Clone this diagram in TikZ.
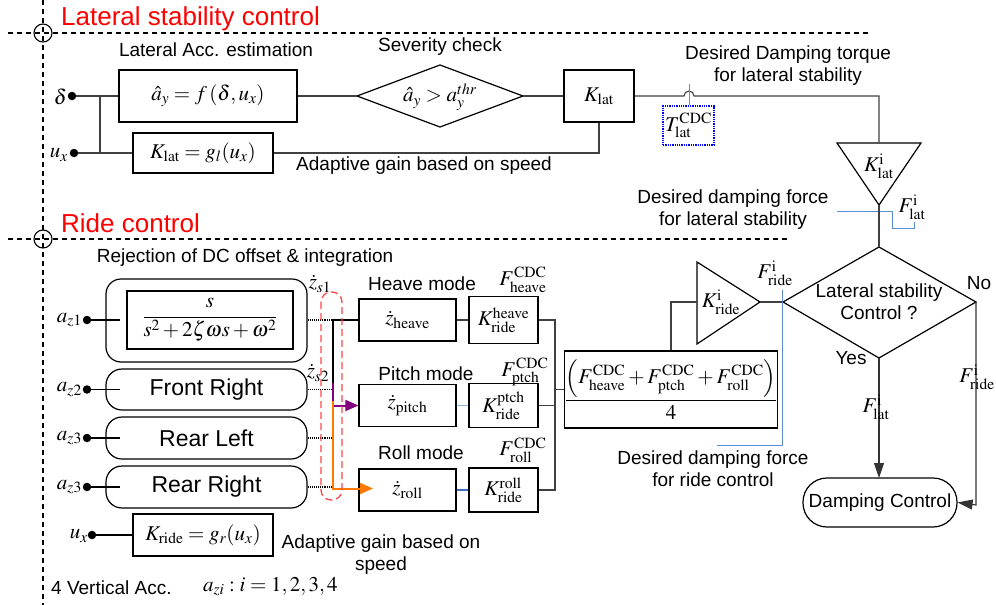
\documentclass[tikz,border=0pt]{standalone}
\usepackage{amsmath}
\usepackage{mathptmx}
\usepackage{fontspec}
\setmainfont{Liberation Serif}
\newfontfamily\arialf{Liberation Sans}
\usetikzlibrary{arrows.meta}
\definecolor{leadblue}{RGB}{91,141,213}
\definecolor{paleblue}{RGB}{140,180,230}
\definecolor{midblue}{RGB}{60,110,200}
\definecolor{dashred}{RGB}{255,70,70}
\definecolor{orng}{RGB}{255,120,0}
\definecolor{purp}{RGB}{128,0,128}
\tikzset{
  box/.style={draw=black, line width=1.2pt, inner sep=0pt, fill=white},
  rbox/.style={box, rounded corners=16pt},
  lbl/.style={font=\arialf\fontsize{19}{22}\selectfont, inner sep=0pt},
  biglbl/.style={font=\arialf\fontsize{23}{26}\selectfont},
  ttl/.style={font=\arialf\fontsize{26}{30}\selectfont, text=red, inner sep=0pt},
  mth/.style={font=\fontsize{21}{24}\selectfont, inner sep=0pt},
  conn/.style={line width=1.1pt, draw=black!75},
  dotl/.style={line width=1.1pt, densely dotted, draw=black},
  sect/.style={line width=1.1pt, dash pattern=on 5pt off 4pt, draw=black},
  pin/.style={circle, fill=black, inner sep=0pt, minimum size=8.5pt},
  arr/.style={-{Triangle[length=13pt,width=11pt]}},
}
\begin{document}
\begin{tikzpicture}[x=1pt,y=-1pt]
\useasboundingbox (0,0) rectangle (996,605);
% section lines
\draw[sect] (43,0) -- (43,605);
\draw[sect] (8,33) -- (870,33);
\draw[sect] (8,239) -- (788,239);
\foreach \yy in {33,239}{
  \draw[line width=1.1pt] (43,\yy) circle[radius=9pt];
}
\node[ttl, anchor=base west] (t1) at (61,25) {Lateral stability control};
\node[ttl, anchor=base west] (t2) at (61,232) {Ride control};

% ---------- Lateral stability part ----------
\node[lbl] (latacc) at (216,50) {Lateral Acc. estimation};
\node[lbl] (sev) at (440,47) {Severity check};
\node[lbl, align=center] (torq) at (788,66) {Desired Damping torque\\for lateral stability};
\node[box, mth, minimum width=178, minimum height=52] (fay) at (208,96) {$\hat a_y = f\,(\delta, u_x)$};
\node[box, mth, minimum width=140, minimum height=40] (klg) at (203,153) {$K_{\mathrm{lat}} = g_l(u_x)$};
\node[lbl, anchor=west] (adap1) at (296,166) {Adaptive gain based on speed};
\node[box, mth, minimum width=70, minimum height=52] (klat) at (599,96) {$K_{\mathrm{lat}}$};

\node[pin] (pd) at (72,96) {};
\node[pin] (pu) at (74,153) {};
\node[mth, anchor=east] (ldelta) at (67,97) {$\delta$};
\node[mth, anchor=east] (lux) at (68,155) {$u_x$};
\coordinate (j1) at (100,96);
\coordinate (j2) at (100,153);

% diamond 1
\coordinate (d1l) at (357,96);
\coordinate (d1t) at (440,65);
\coordinate (d1r) at (523,96);
\coordinate (d1b) at (440,127);
\draw[line width=1.2pt] (d1l) -- (d1t) -- (d1r) -- (d1b) -- cycle;
\node[mth] (d1txt) at (440,97) {$\hat a_y > a_y^{thr}$};

\draw[conn] (pd) -- (fay.west);
\draw[conn] (j1) -- (j2);
\draw[conn] (pu) -- (klg.west);
\draw[conn] (fay.east) -- (d1l);
\draw[conn] (d1r) -- (klat.west);
\draw[conn] (klg.east) -- (599,153) -- (klat.south);

% triangle K_lat^i
\coordinate (tr1a) at (837,143);
\coordinate (tr1b) at (921,143);
\coordinate (tr1c) at (879,205);
\draw[line width=1.2pt] (tr1a) -- (tr1b) -- (tr1c) -- cycle;
\node[mth] (klati) at (879,166) {$K^{\mathrm{i}}_{\mathrm{lat}}$};
\coordinate (tr1top) at (879,143);
\draw[conn] (klat.east) -- (684,96) arc[start angle=180, end angle=0, radius=5pt] -- (879,96) -- (tr1top);

% T lat box
\node[mth, draw=blue, densely dotted, line width=1.3pt, minimum width=51, minimum height=39] (tbox) at (688.5,125.5) {$T^{\mathrm{CDC}}_{\mathrm{lat}}$};
\coordinate (hoptop) at (689,84);
\draw[leadblue, line width=1pt] (hoptop) -- (tbox.north -| hoptop);

% desired damping force lateral
\node[lbl, align=center] (ddfl) at (733,210) {Desired damping force\\for lateral stability};
\node[mth] (flati1) at (912,207) {$F^{\mathrm{i}}_{\mathrm{lat}}$};
\draw[leadblue, line width=1pt] (837,211) -- (892,211) -- (892,228) -- (914,228) -- (914,222);

% ---------- Ride control part ----------
\node[lbl] (rej) at (245,258) {Rejection of DC offset \& integration};
\node[box, rounded corners=15pt, minimum width=201, minimum height=83] (b1) at (206.5,320.5) {};
\node[box, mth, minimum width=166, minimum height=58] (b1in) at (210,320) {$\displaystyle\frac{s}{s^2+2\zeta\omega s+\omega^2}$};
\node[rbox, biglbl, minimum width=201, minimum height=41] (b2) at (206.5,389.5) {Front Right};
\node[rbox, biglbl, minimum width=201, minimum height=42] (b3) at (206.5,438) {Rear Left};
\node[rbox, biglbl, minimum width=201, minimum height=42] (b4) at (206.5,487) {Rear Right};

\foreach \nm/\yy/\lab in {a1/320/{a_{z1}}, a2/389.5/{a_{z2}}, a3/438/{a_{z3}}, a4/487/{a_{z3}}}{
  \node[pin] (p\nm) at (87,\yy) {};
  \node[mth, anchor=east] (l\nm) at (82,\yy) {$\lab$};
  \coordinate (s\nm) at (120,\yy);
  \draw[conn, draw=black] (p\nm) -- (s\nm);
}

% mode boxes
\node[box, mth, minimum width=97, minimum height=42] (zh) at (407.5,320) {$\dot z_{\mathrm{heave}}$};
\node[box, mth, minimum width=97, minimum height=42] (zp) at (407.5,405.5) {$\dot z_{\mathrm{pitch}}$};
\node[box, mth, minimum width=97, minimum height=42] (zr) at (407.5,490) {$\dot z_{\mathrm{roll}}$};
\node[box, mth, minimum width=69, minimum height=47] (kh) at (503.5,320) {$K^{\mathrm{heave}}_{\mathrm{ride}}$};
\node[box, mth, minimum width=69, minimum height=44] (kp) at (503.5,405.5) {$K^{\mathrm{ptch}}_{\mathrm{ride}}$};
\node[box, mth, minimum width=69, minimum height=44] (kr) at (503.5,490) {$K^{\mathrm{roll}}_{\mathrm{ride}}$};
\node[lbl] (hm) at (422,284) {Heave mode};
\node[lbl] (pm) at (426,374) {Pitch mode};
\node[lbl] (rm) at (421,453) {Roll mode};
\node[mth] (fh) at (523,280) {$F^{\mathrm{CDC}}_{\mathrm{heave}}$};
\node[mth] (fp) at (525,372) {$F^{\mathrm{CDC}}_{\mathrm{ptch}}$};
\node[mth] (fr) at (523,450) {$F^{\mathrm{CDC}}_{\mathrm{roll}}$};

\node[mth] (zs1) at (320,284) {$\dot z_{s1}$};
\node[mth] (zs2) at (318,373) {$\dot z_{s2}$};

% dotted outputs and bus
\coordinate (v1) at (333,320);
\coordinate (v2) at (333,389.5);
\coordinate (v3) at (333,438);
\coordinate (v4) at (333,487);
\draw[dotl] (b1.east |- v1) -- (v1);
\draw[dotl] (b2.east |- v2) -- (v2);
\draw[dotl] (b3.east |- v3) -- (v3);
\draw[dotl] (b4.east |- v4) -- (v4);
\draw[line width=1.3pt] (zh.west) -- (v1) -- (333,383);
\draw[purp, line width=2pt] (333,383) -- (333,401);
\draw[purp, line width=2pt, arr] (333,405.5) -- (zp.west);
\draw[orng, line width=2pt] (333,401) -- (333,488.5);
\draw[orng, line width=2pt, arr] (332,488.5) -- (373,488.5);
\draw[dashred, line width=1.3pt, dash pattern=on 7pt off 4pt, rounded corners=10pt] (321,292) rectangle (342,500);

\draw[conn] (zh.east) -- (kh.west);
\draw[paleblue, line width=1.1pt] (zp.east) -- (kp.west);
\draw[midblue, line width=1.1pt] (zr.east) -- (kr.west);

% fraction box
\node[box, mth, minimum width=208, minimum height=77] (fr4) at (671,389.5) {$\displaystyle\frac{\left(F^{\mathrm{CDC}}_{\mathrm{heave}}+F^{\mathrm{CDC}}_{\mathrm{ptch}}+F^{\mathrm{CDC}}_{\mathrm{roll}}\right)}{4}$};
\draw[conn] (kh.east) -- (555,320) -- (555,490) -- (kr.east);
\draw[conn] (kp.east) -- (555,405.5);
\draw[conn] (555,389.5) -- (fr4.west);

% triangle K_ride^i
\coordinate (tr2a) at (697,262);
\coordinate (tr2b) at (697,344);
\coordinate (tr2c) at (760,302);
\draw[line width=1.2pt] (tr2a) -- (tr2b) -- (tr2c) -- cycle;
\node[mth] (kridei) at (721,302) {$K^{\mathrm{i}}_{\mathrm{ride}}$};
\coordinate (tr2in) at (697,302);
\draw[conn] (fr4.north) -- (671,302) -- (tr2in);

% diamond 2
\coordinate (d2l) at (783,302);
\coordinate (d2t) at (879,247);
\coordinate (d2r) at (976,302);
\coordinate (d2b) at (879,358);
\draw[line width=1.2pt] (d2l) -- (d2t) -- (d2r) -- (d2b) -- cycle;
\node[lbl, align=center] (d2txt) at (879,302) {Lateral stability\\Control ?};
\draw[conn] (tr2c) -- (d2l);
\draw[conn] (tr1c) -- (d2t);
\node[mth] (fridei1) at (775,273) {$F^{\mathrm{i}}_{\mathrm{ride}}$};
\draw[leadblue, line width=1pt] (782,290) -- (782,445) -- (717,445);
\node[lbl, align=center] (ddfr) at (713,469) {Desired damping force\\for ride control};
\node[lbl] (no) at (979,283) {No};
\node[lbl] (yes) at (851,358) {Yes};

\node[box, lbl, rounded corners=24pt, minimum width=154, minimum height=49] (dc) at (880,502.5) {Damping Control};
\draw[conn, draw=black!80, -{Triangle[length=15pt,width=10pt]}] (d2b) -- (879,478);
\draw[conn, draw=black!80, -{Triangle[length=15pt,width=10pt]}] (d2r) -- (976,505) -- (dc.east);
\node[mth] (flati2) at (876,407) {$F^{\mathrm{i}}_{\mathrm{lat}}$};
\node[mth] (fridei2) at (977,377) {$F^{\mathrm{i}}_{\mathrm{ride}}$};

% bottom
\node[pin] (pux) at (92,535) {};
\node[mth, anchor=east] (lux2) at (88,536) {$u_x$};
\node[box, mth, minimum width=140, minimum height=42] (krg) at (203,535) {$K_{\mathrm{ride}} = g_r(u_x)$};
\draw[line width=1.1pt] (pux) -- (krg.west);
\node[lbl, align=center] (adap2) at (381,555) {Adaptive gain based on\\speed};
\node[lbl, anchor=west] (vacc) at (51,588) {4 Vertical Acc.};
\node[mth, anchor=west] (azi) at (203,587) {$a_{zi} : i = 1, 2, 3, 4$};
\end{tikzpicture}
\end{document}
